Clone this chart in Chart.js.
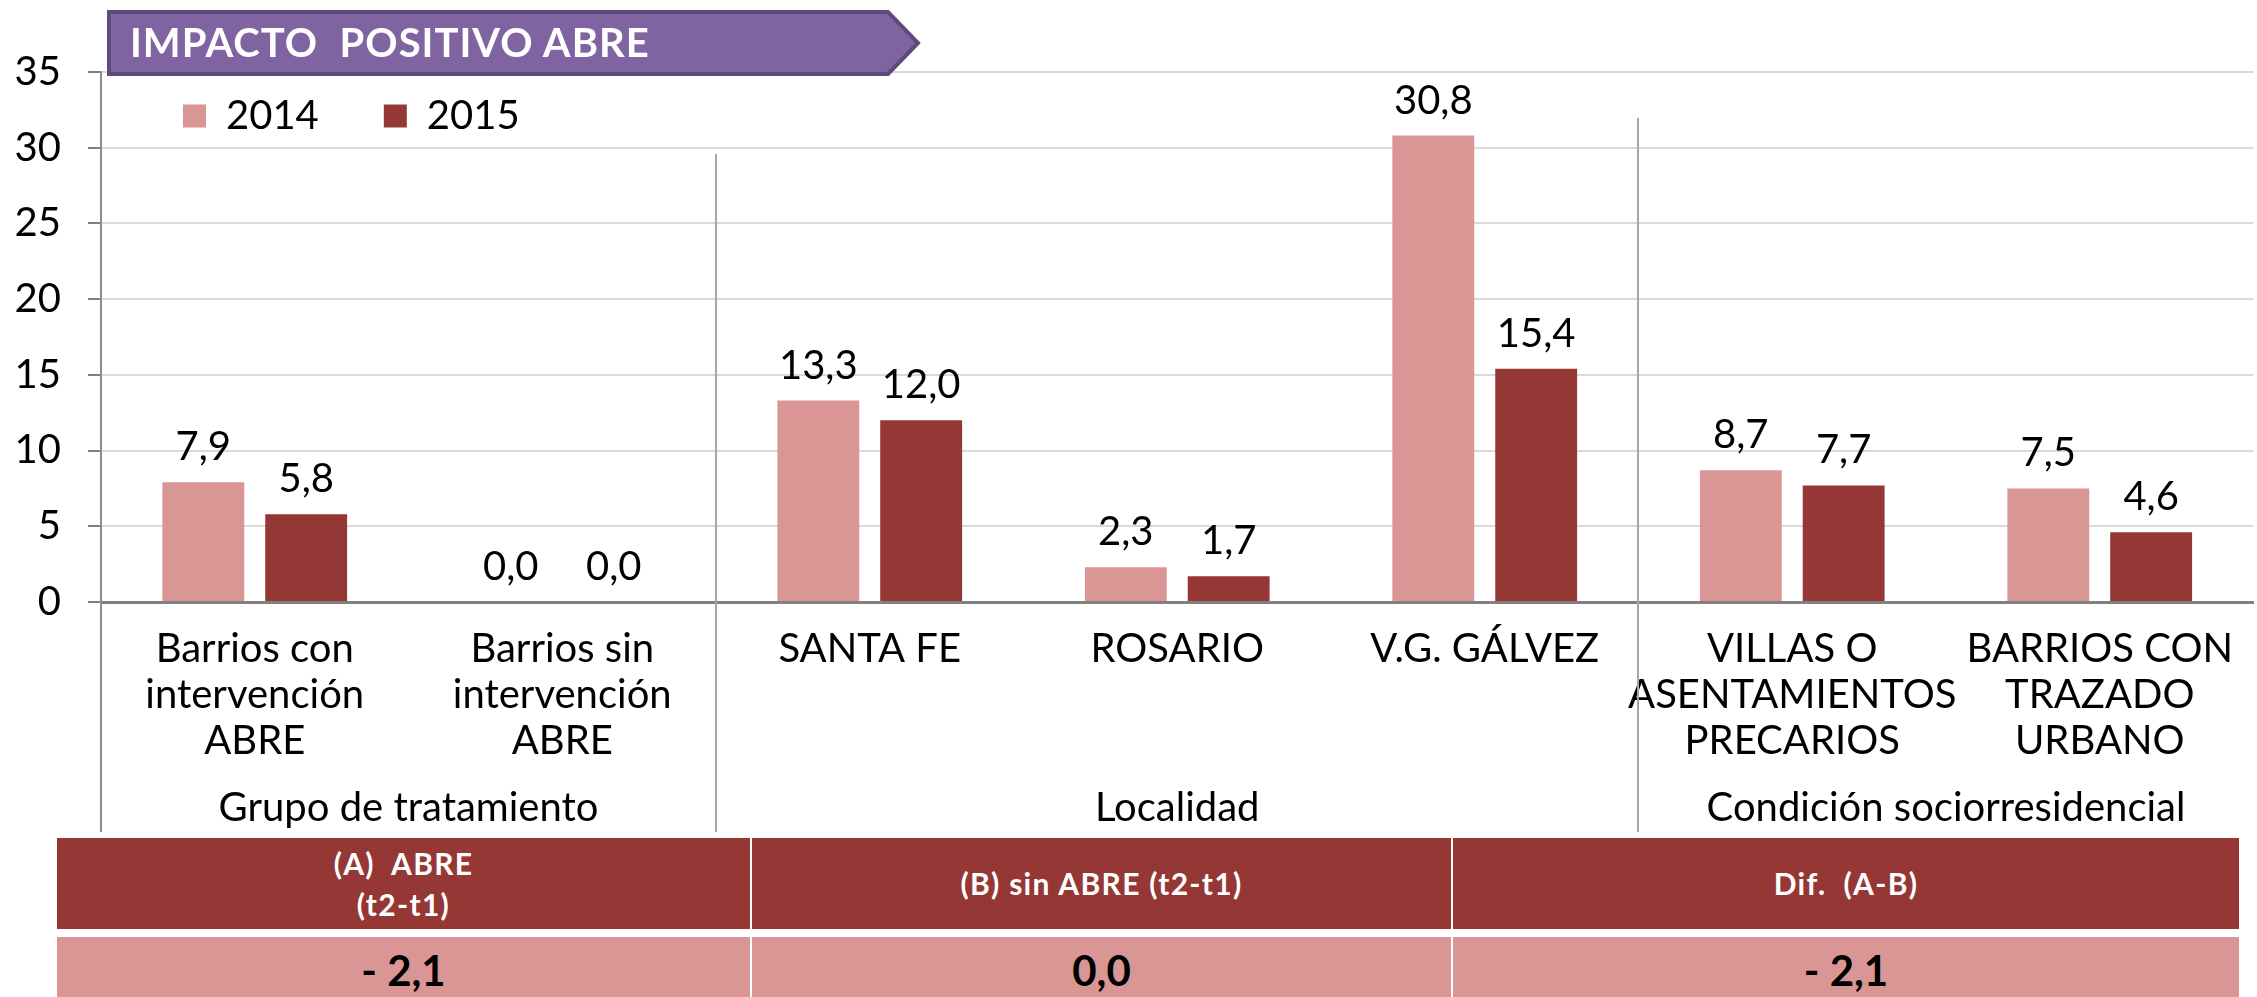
<!DOCTYPE html>
<html>
<head>
<meta charset="utf-8">
<script src="https://cdn.jsdelivr.net/npm/chart.js@4.4.0/dist/chart.umd.min.js"></script>
<style>
  html, body { margin: 0; padding: 0; background: #ffffff; width: 2257px; height: 997px; overflow: hidden; }
  #c { position: absolute; left: 0; top: 0; }
  .banner { position: absolute; left: 0; top: 0; }
  .cell { position: absolute; display: flex; align-items: center; justify-content: center; text-align: center; white-space: pre; }
  .head { background: #953735; color: #ffffff; font-family: 'Lato', sans-serif; font-weight: bold; font-size: 30px; letter-spacing: 1.3px; line-height: 41px; }
  .val { background: #D99694; color: #000000; font-family: 'Lato', sans-serif; font-weight: bold; font-size: 42px; }
</style>
</head>
<body>
<canvas id="c" width="2257" height="997"></canvas>
<svg class="banner" width="960" height="90" xmlns="http://www.w3.org/2000/svg">
  <polygon points="109,12 888,12 918,43 888,74 109,74" fill="#8064A2" stroke="#604A7B" stroke-width="4" stroke-linejoin="miter"/>
  <text x="130" y="57" fill="#ffffff" font-family="Lato, sans-serif" font-weight="bold" font-size="40" letter-spacing="1" xml:space="preserve">IMPACTO  POSITIVO ABRE</text>
</svg>
<div id="table"></div>
<script>
// ---- data ----
const categories = [
  ["Barrios con", "intervención", "ABRE"],
  ["Barrios sin", "intervención", "ABRE"],
  "SANTA FE",
  "ROSARIO",
  "V.G. GÁLVEZ",
  ["VILLAS O", "ASENTAMIENTOS", "PRECARIOS"],
  ["BARRIOS CON", "TRAZADO", "URBANO"]
];
const seriesNames = ["2014", "2015"];
const values2014 = [7.9, 0.0, 13.3, 2.3, 30.8, 8.7, 7.5];
const values2015 = [5.8, 0.0, 12.0, 1.7, 15.4, 7.7, 4.6];
const yMin = 0, yMax = 35, yStep = 5;
const groupLabels = ["Grupo de tratamiento", "Localidad", "Condición sociorresidencial"];
const groupFirst = [0, 2, 5];
const groupLast = [1, 4, 6];
const tableHeaders = ["(A)  ABRE\n(t2-t1)", "(B) sin ABRE (t2-t1)", "Dif.  (A-B)"];
const tableValues = ["- 2,1", "0,0", "- 2,1"];

// ---- styles ----
const FONT = 'Lato';
const colors = ['#D99694', '#953735'];

// ---- table (HTML) ----
(function buildTable() {
  const cols = [[57, 693], [752, 699], [1453, 786]];
  const t = document.getElementById('table');
  cols.forEach((c, i) => {
    const h = document.createElement('div');
    h.className = 'cell head';
    h.style.left = c[0] + 'px'; h.style.width = c[1] + 'px';
    h.style.top = '838px'; h.style.height = '91px';
    h.textContent = tableHeaders[i];
    t.appendChild(h);
    const v = document.createElement('div');
    v.className = 'cell val';
    v.style.left = c[0] + 'px'; v.style.width = c[1] + 'px';
    v.style.top = '937px'; v.style.height = '66px';
    v.textContent = tableValues[i];
    t.appendChild(v);
  });
})();

const fmt = v => v.toFixed(1).replace('.', ',');

const valueLabels = {
  id: 'valueLabels',
  afterDatasetsDraw(chart) {
    const ctx = chart.ctx;
    ctx.save();
    ctx.font = '40px ' + FONT;
    ctx.fillStyle = '#000000';
    ctx.textAlign = 'center';
    ctx.textBaseline = 'alphabetic';
    chart.data.datasets.forEach((ds, di) => {
      const meta = chart.getDatasetMeta(di);
      meta.data.forEach((bar, i) => {
        ctx.fillText(fmt(ds.data[i]), bar.x, bar.y - 22);
      });
    });
    ctx.restore();
  }
};

const groupAxis = {
  id: 'groupAxis',
  afterDraw(chart) {
    const ctx = chart.ctx;
    const xs = chart.scales.x;
    const area = chart.chartArea;
    const bottom = area.bottom + 230;
    ctx.save();
    ctx.strokeStyle = '#8C8C8C';
    ctx.lineWidth = 2;
    ctx.beginPath();
    ctx.moveTo(area.left, area.bottom);
    ctx.lineTo(area.left, bottom);
    ctx.stroke();
    ctx.strokeStyle = '#A6A6A6';
    const tops = [area.top + 82, area.top + 46];
    for (let g = 0; g < groupLabels.length - 1; g++) {
      const x = Math.round((xs.getPixelForValue(groupLast[g]) + xs.getPixelForValue(groupFirst[g + 1])) / 2);
      ctx.beginPath();
      ctx.moveTo(x, tops[g]);
      ctx.lineTo(x, bottom);
      ctx.stroke();
    }
    ctx.font = '40px ' + FONT;
    ctx.fillStyle = '#000000';
    ctx.textAlign = 'center';
    ctx.textBaseline = 'middle';
    groupLabels.forEach((name, g) => {
      const x = (xs.getPixelForValue(groupFirst[g]) + xs.getPixelForValue(groupLast[g])) / 2;
      ctx.fillText(name, x, area.bottom + 206);
    });
    ctx.restore();
  }
};

// legend is laid out with (almost) no height, then placed inside the plot area
const legendPos = {
  id: 'legendPos',
  afterLayout(chart) {
    const lg = chart.legend;
    if (lg) {
      lg.left = chart.chartArea.left + 17;
      lg.top = chart.chartArea.top - 41;
      lg.right = lg.left + 700;
      lg.bottom = lg.top + 160;
      lg.width = 700;
      lg.height = 160;
    }
  }
};

new Chart(document.getElementById('c'), {
  type: 'bar',
  data: {
    labels: categories,
    datasets: [
      { label: seriesNames[0], data: values2014, backgroundColor: colors[0], borderWidth: 0,
        categoryPercentage: 0.669, barPercentage: 0.796 },
      { label: seriesNames[1], data: values2015, backgroundColor: colors[1], borderWidth: 0,
        categoryPercentage: 0.669, barPercentage: 0.796 }
    ]
  },
  options: {
    responsive: false,
    devicePixelRatio: 1,
    animation: false,
    layout: { padding: { left: 0, right: 0, top: 71, bottom: 0 } },
    plugins: {
      legend: {
        position: 'top',
        align: 'start',
        maxHeight: 1,
        labels: { font: { family: FONT, size: 40 }, color: '#000000', boxWidth: 23, boxHeight: 23, padding: 65 }
      },
      tooltip: { enabled: false },
      title: { display: false }
    },
    scales: {
      x: {
        type: 'category',
        grid: { display: false, drawTicks: false },
        border: { display: true, color: '#808080', width: 3 },
        ticks: { font: { family: FONT, size: 40, lineHeight: 1.15 }, color: '#000000', padding: 24,
                 maxRotation: 0, minRotation: 0, autoSkip: false },
        afterFit(scale) { scale.height = 395; }
      },
      y: {
        min: yMin, max: yMax,
        ticks: { stepSize: yStep, font: { family: FONT, size: 40 }, color: '#000000', padding: 27 },
        grid: { color: '#D9D9D9', lineWidth: 2, tickColor: '#808080', tickLength: 13, tickWidth: 2 },
        border: { display: true, color: '#8C8C8C', width: 2 },
        afterFit(scale) { scale.width = 101; }
      }
    }
  },
  plugins: [valueLabels, groupAxis, legendPos]
});
</script>
</body>
</html>
